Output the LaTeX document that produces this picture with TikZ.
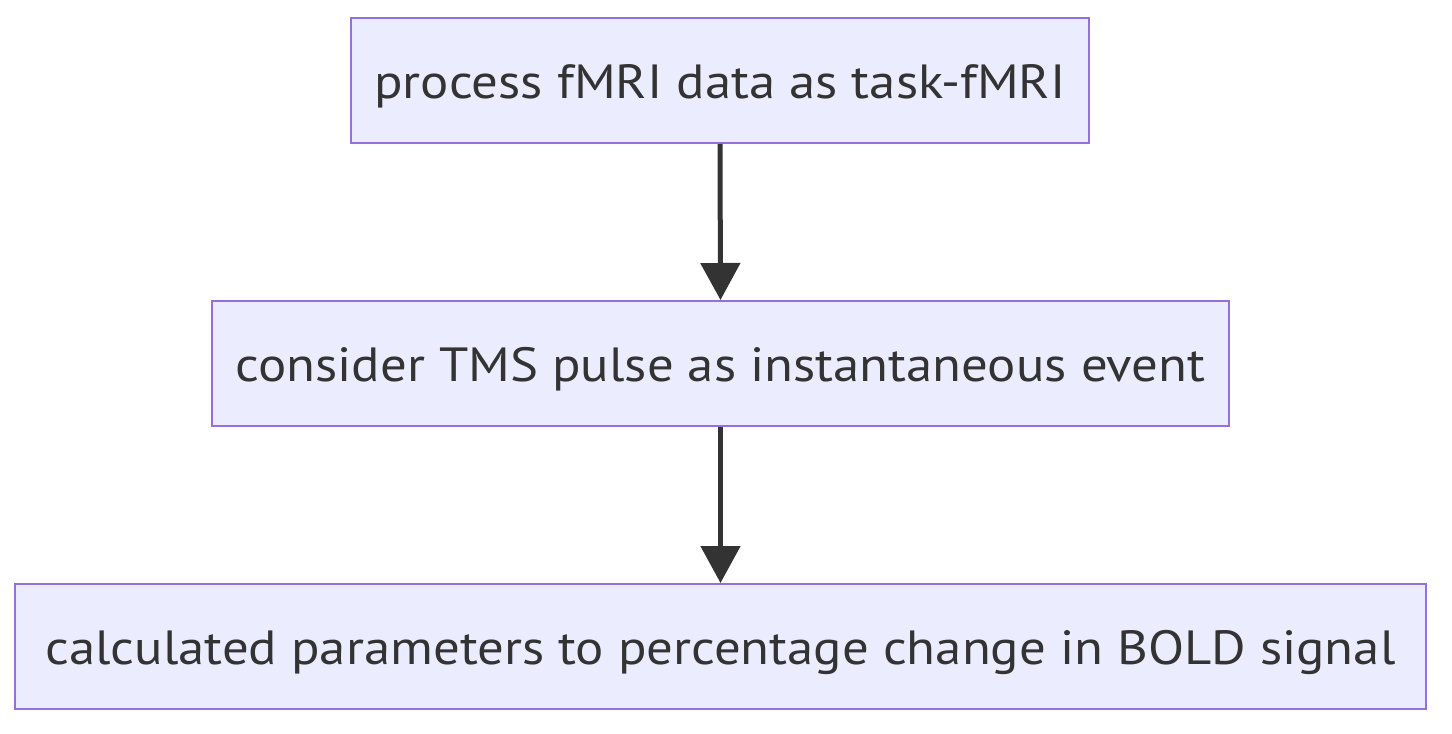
\documentclass[tikz,border=0pt]{standalone}
\usepackage{fontspec}
\setmainfont{PT Sans}[FakeStretch=1.1]
\usetikzlibrary{arrows.meta}
\definecolor{boxfill}{HTML}{ECECFF}
\definecolor{boxline}{HTML}{9370DB}
\definecolor{ink}{HTML}{333333}
\tikzset{
  stepbox/.style={draw=boxline, fill=boxfill, line width=2pt, text=ink,
    font=\fontsize{48}{57}\selectfont, inner sep=0pt, anchor=north west,
    text height=35pt, text depth=0pt},
  conn/.style={draw=ink, line width=5pt, -{Triangle[length=37pt,width=39pt]}, shorten >=0pt}
}
\begin{document}
\begin{tikzpicture}[x=1pt,y=-1pt]
\useasboundingbox (0,0) rectangle (1452,734);
\node[stepbox, minimum width=738pt, minimum height=125pt] (a) at (350,17) {process fMRI data as task-fMRI};
\node[stepbox, minimum width=1017pt, minimum height=125pt] (b) at (211,300) {consider TMS pulse as instantaneous event};
\node[stepbox, minimum width=1411pt, minimum height=125pt] (c) at (14,583) {calculated parameters to percentage change in BOLD signal};
\draw[conn] (a.south) -- (b.north);
\draw[conn] (b.south) -- (c.north);
\end{tikzpicture}
\end{document}
